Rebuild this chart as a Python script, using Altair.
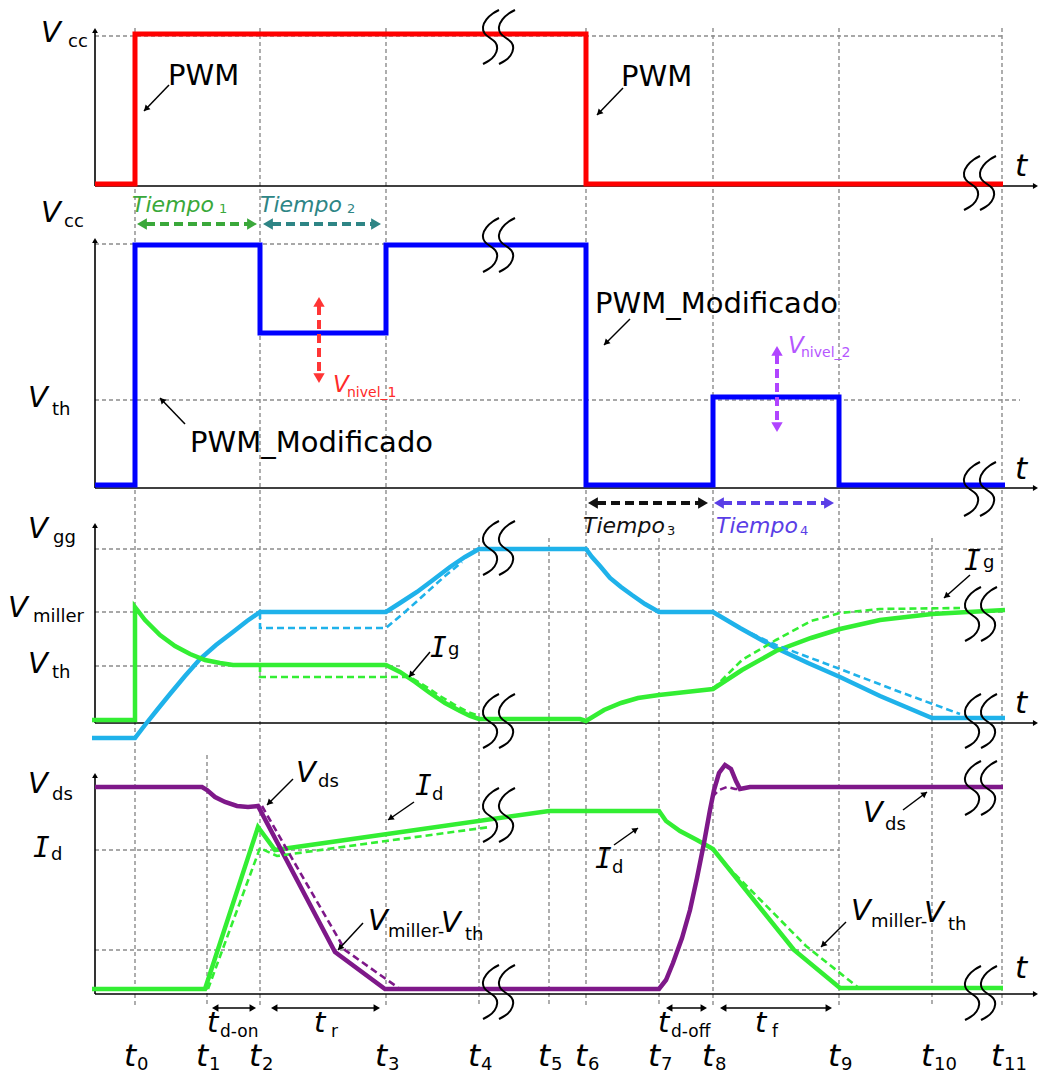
import math
import altair as alt
import pandas as pd

W, H = 1039, 1074
FONT = "DejaVu Sans"

# ---- time instants t0 .. t11 -------------------------------------------
T_LABELS = ["0", "1", "2", "3", "4", "5", "6", "7", "8", "9", "10", "11"]
T_AT = [135, 207, 260, 386, 479, 549, 586, 659, 713, 839, 932, 1002]

# ---- lanes: zero line of each trace, axis line and axis top -------------
LANE_BASE = {"pwm": 184, "mod": 485, "gate": 720, "drain": 989}
LANE_AXIS = {"pwm": 186, "mod": 488, "gate": 723, "drain": 994}
LANE_TOP = {"pwm": 28, "mod": 238, "gate": 523, "drain": 773}

# ---- waveforms: time, level above the lane's zero line -----------------
PWM_T = [95, 135, 135, 586, 586, 1003]
PWM_V = [0, 0, 150, 150, 0, 0]

MOD_T = [95, 135, 135, 260, 260, 386, 386, 586, 586, 713, 713, 839, 839, 1005]
MOD_V = [0, 0, 240, 240, 152, 152, 240, 240, 0, 0, 88, 88, 0, 0]

VGS_T = [92, 135, 145, 157, 170, 185, 200, 216, 233, 247, 260,
         386, 400, 417, 433, 450, 465, 479,
         586, 592, 600, 610, 621, 632, 645, 659,
         713, 740, 776, 808, 840, 880, 932, 1005]
VGS_V = [-18, -18, -5, 10, 26, 44, 61, 75, 88, 99, 108,
         108, 117, 128, 140, 153, 163, 171,
         171, 163, 154, 142, 133, 125, 116, 108,
         108, 92, 72, 57, 43, 24, 2, 2]
VGS_A_T = [260, 260, 386, 405, 425, 445, 462]
VGS_A_V = [108, 92, 92, 108, 126, 144, 158]
VGS_B_T = [713, 742, 776, 840, 900, 960]
VGS_B_V = [108, 91, 75, 51, 28, 6]

IG_T = [92, 135, 135, 145, 160, 175, 190, 205, 220, 233,
        386, 400, 415, 430, 445, 460, 470, 479,
        580, 586, 604, 621, 638, 659, 686, 713,
        742, 776, 811, 840, 880, 932, 1005]
IG_V = [0, 0, 113, 100, 85, 74, 66, 60, 57, 55,
        55, 48, 38, 27, 17, 9, 4, 1,
        1, -1, 10, 17, 22, 25, 28, 31,
        50, 69, 82, 91, 100, 106, 110]
IG_A_T = [260, 260, 410, 425, 440, 455, 468, 479]
IG_A_V = [55, 43, 43, 34, 24, 15, 8, 4]
IG_B_T = [713, 742, 776, 811, 840, 880, 960]
IG_B_V = [31, 60, 80, 99, 107, 111, 112]

VDS_T = [95, 202, 207, 215, 225, 237, 248, 258, 335, 385, 659,
         666, 673, 682, 690, 697, 704, 710, 714,
         719, 725, 731, 736, 740, 745, 750, 1003]
VDS_V = [202, 202, 199, 192, 187, 183, 182, 183, 37, 0, 0,
         9, 26, 51, 79, 111, 146, 179, 199,
         216, 224, 220, 208, 200, 201, 202, 202]
VDS_A_T = [262, 286, 345, 400]
VDS_A_V = [183, 141, 39, 0]
VDS_B_T = [712, 719, 727, 735, 742]
VDS_B_V = [192, 199, 202, 200, 200]

ID_T = [92, 205, 258, 275, 549, 659, 666, 680, 697, 713, 794, 840, 1003]
ID_V = [0, 0, 162, 139, 178, 178, 168, 158, 149, 140, 39, 1, 1]
ID_A_T = [208, 260, 277, 386, 490]
ID_A_V = [0, 141, 133, 148, 162]
ID_B_T = [713, 727, 806, 860]
ID_B_V = [140, 123, 43, 0]

# ---- reference levels (lane, level, from, to) --------------------------
REF_LEVELS = [("pwm", 148, 95, 1003),
              ("mod", 241, 95, 586), ("mod", 85, 95, 1020),
              ("gate", 171, 95, 1003), ("gate", 108, 95, 1003), ("gate", 54, 95, 400),
              ("drain", 139, 95, 839), ("drain", 39, 95, 839)]
# vertical guides: which instants, and from where they start
GUIDE_FULL = ["0", "2", "3", "6", "8", "9", "11"]
GUIDE_LOWER = ["4", "5", "7", "10"]
GUIDE_DRAIN = ["1"]

RED, BLUE, SKY, GREEN, PURPLE = "#ff0000", "#0000ff", "#1fb2ea", "#33ee33", "#7e1889"
GRAY = "#8c8c8c"

X = alt.X("x:Q", scale=alt.Scale(domain=[0, W], nice=False, zero=False), axis=None)
Y = alt.Y("y:Q", scale=alt.Scale(domain=[0, H], nice=False, zero=False, reverse=True), axis=None)


def lane_pts(lane, ts, vs):
    b = LANE_BASE[lane]
    return [(t, b - v) for t, v in zip(ts, vs)]


def lines(series, width, dash=None, interp="linear", join="miter"):
    rows = []
    for g, (pts, col) in enumerate(series):
        for i, (x, y) in enumerate(pts):
            rows.append({"x": x, "y": y, "g": g, "i": i, "c": col})
    kw = dict(strokeWidth=width, interpolate=interp, strokeJoin=join)
    if dash:
        kw["strokeDash"] = dash
    return alt.Chart(pd.DataFrame(rows)).mark_line(**kw).encode(
        x=X, y=Y, detail="g:N", order="i:Q", color=alt.Color("c:N", scale=None))


def heads(items):
    rows = []
    for (tx, ty), (fx, fy), sz, c in items:
        dx, dy = tx - fx, ty - fy
        L = math.hypot(dx, dy)
        ux, uy = dx / L, dy / L
        h = 0.433 * math.sqrt(sz)
        ang = math.degrees(math.atan2(dx, -dy)) % 360
        rows.append({"x": tx - ux * h, "y": ty - uy * h, "a": ang, "sz": sz, "c": c})
    return alt.Chart(pd.DataFrame(rows)).mark_point(
        shape="triangle-up", filled=True, opacity=1, strokeWidth=0).encode(
        x=X, y=Y, angle=alt.Angle("a:Q", scale=None),
        size=alt.Size("sz:Q", scale=None), color=alt.Color("c:N", scale=None))


def texts(items, italic=False, font=FONT, weight="normal"):
    df = pd.DataFrame(items, columns=["s", "x", "y", "fs", "c"])
    return alt.Chart(df).mark_text(
        align="left", baseline="alphabetic", font=font, fontWeight=weight,
        fontStyle="italic" if italic else "normal").encode(
        x=X, y=Y, text="s:N", size=alt.Size("fs:Q", scale=None),
        color=alt.Color("c:N", scale=None))


t_at = dict(zip(T_LABELS, T_AT))

# grid ------------------------------------------------------------------
grid = []
for lane, lev, x0, x1 in REF_LEVELS:
    y = LANE_BASE[lane] - lev
    grid.append(([(x0, y), (x1, y)], GRAY))
for k in GUIDE_FULL:
    grid.append(([(t_at[k], 28), (t_at[k], 1007)], GRAY))
for k in GUIDE_LOWER:
    grid.append(([(t_at[k], 538), (t_at[k], 1007)], GRAY))
for k in GUIDE_DRAIN:
    grid.append(([(t_at[k], 755), (t_at[k], 1007)], GRAY))

# axes ------------------------------------------------------------------
axes, axis_heads = [], []
for lane in LANE_BASE:
    ay, top = LANE_AXIS[lane], LANE_TOP[lane]
    axes.append(([(95, ay), (95, top + 3)], "black"))
    axes.append(([(95, ay), (1035, ay)], "black"))
    axis_heads.append(((95, top), (95, ay), 34, "black"))
    axis_heads.append(((1038, ay), (95, ay), 34, "black"))

# break marks (pairs of S strokes) --------------------------------------
S_SHAPE = [(9, -27), (3, -24), (-4, -18), (-8, -10), (-6, -3), (0, 1),
           (6, 5), (8, 11), (5, 19), (-1, 24), (-7, 27)]
BREAKS = [(498, 37), (979, 183), (498, 245), (979, 489),
          (498, 548), (498, 721), (980, 614), (980, 721),
          (498, 815), (498, 992), (980, 788), (980, 993)]
brk = []
for cx, cy in BREAKS:
    for off in (-8, 8):
        brk.append(([(cx + off + dx, cy + dy) for dx, dy in S_SHAPE], "black"))

# pointer arrows --------------------------------------------------------
POINTERS = [((169, 85), (144, 111)), ((623, 88), (597, 115)),
            ((185, 424), (160, 398)), ((630, 319), (604, 345)),
            ((430, 652), (409, 677)), ((970, 575), (944, 598)),
            ((293, 779), (267, 805)), ((414, 802), (388, 820)),
            ((363, 923), (338, 950)), ((614, 845), (638, 828)),
            ((903, 810), (927, 792)), ((846, 922), (821, 947))]
SPANS = [(212, 256), (271, 380), (666, 707), (720, 832)]
SPAN_Y = 1008
DASH_ARROWS = [((137, 224), (257, 224), "#3aa83a"), ((263, 224), (381, 224), "#2e8585"),
               ((319, 297), (319, 383), "#ff3535"), ((588, 503), (708, 503), "#111111"),
               ((714, 503), (834, 503), "#5a3ee6"), ((777, 346), (777, 432), "#b044ff")]

ptr_lines, ptr_heads = [], []
for a, b in POINTERS:
    ptr_lines.append(([a, b], "black"))
    ptr_heads.append((b, a, 45, "black"))
for x0, x1 in SPANS:
    ptr_lines.append(([(x0 + 3, SPAN_Y), (x1 - 3, SPAN_Y)], "black"))
    ptr_heads.append(((x0, SPAN_Y), (x1, SPAN_Y), 55, "black"))
    ptr_heads.append(((x1, SPAN_Y), (x0, SPAN_Y), 55, "black"))

dash_lines, dash_heads = [], []
for a, b, c in DASH_ARROWS:
    dx, dy = b[0] - a[0], b[1] - a[1]
    L = math.hypot(dx, dy)
    ux, uy = dx / L, dy / L
    dash_lines.append(([(a[0] + ux * 9, a[1] + uy * 9), (b[0] - ux * 9, b[1] - uy * 9)], c))
    dash_heads.append((a, b, 130, c))
    dash_heads.append((b, a, 130, c))

# text ------------------------------------------------------------------
K = "black"
ITALIC_BIG = [
    ("V", 41, 42, 29, K), ("V", 41, 222, 29, K), ("V", 28, 407, 29, K),
    ("V", 28, 538, 29, K), ("V", 8, 617, 29, K), ("V", 28, 673, 29, K),
    ("V", 28, 793, 29, K), ("V", 296, 782, 29, K),
    ("V", 368, 930, 29, K), ("V", 441, 932, 29, K),
    ("V", 863, 822, 29, K), ("V", 851, 920, 29, K), ("V", 924, 922, 29, K),
    ("t", 207, 1032, 29, K), ("t", 314, 1032, 29, K),
    ("t", 658, 1032, 29, K), ("t", 755, 1032, 29, K),
    ("t", 1015, 176, 31, K), ("t", 1015, 479, 31, K),
    ("t", 1015, 713, 31, K), ("t", 1015, 978, 31, K),
] + [("t", x - 11, 1066, 31, K) for x in T_AT]
ITALIC_I = [("I", 430, 657, 28, K), ("I", 964, 570, 28, K), ("I", 33, 857, 28, K),
            ("I", 415, 795, 28, K), ("I", 595, 868, 28, K)]
SUBS = [
    ("cc", 68, 47, 18, K), ("cc", 64, 227, 18, K), ("th", 52, 415, 18, K),
    ("gg", 53, 543, 18, K), ("miller", 33, 622, 18, K), ("th", 52, 678, 18, K),
    ("ds", 52, 800, 18, K), ("d", 51, 860, 18, K),
    ("g", 448, 655, 18, K), ("g", 983, 568, 18, K),
    ("ds", 318, 787, 18, K), ("d", 432, 800, 18, K),
    ("miller-", 388, 937, 18, K), ("th", 465, 940, 18, K),
    ("d", 612, 873, 18, K), ("ds", 885, 830, 18, K),
    ("miller-", 871, 927, 18, K), ("th", 948, 930, 18, K),
    ("d-on", 220, 1037, 17, K), ("r", 331, 1037, 17, K),
    ("d-off", 671, 1037, 17, K), ("f", 772, 1037, 17, K),
] + [(lbl, x + 2, 1070, 18, K) for lbl, x in zip(T_LABELS, T_AT)]
BIG = [("PWM", 168, 85, 29, K), ("PWM", 621, 86, 29, K),
       ("PWM_Modificado", 190, 452, 29, K), ("PWM_Modificado", 595, 313, 29, K)]
TIEMPO = [("Tiempo", 132, 212, 22, "#3aa83a"), ("Tiempo", 260, 212, 22, "#2e8585"),
          ("Tiempo", 583, 533, 22, "#111111"), ("Tiempo", 716, 533, 22, "#5a3ee6"),
          ("V", 333, 392, 23, "#ff2a2a"), ("V", 788, 353, 23, "#b556ff")]
TIEMPO_SUB = [("1", 219, 213, 13, "#3aa83a"), ("2", 347, 213, 13, "#2e8585"),
              ("3", 667, 535, 13, "#111111"), ("4", 800, 535, 13, "#5a3ee6"),
              ("nivel_1", 347, 397, 14, "#ff2a2a"), ("nivel_2", 801, 357, 14, "#b556ff")]

layers = [
    lines(grid, 1.4, dash=[4, 3]),
    lines(axes, 1.6),
    lines([(lane_pts("pwm", PWM_T, PWM_V), RED)], 5),
    lines([(lane_pts("mod", MOD_T, MOD_V), BLUE)], 5),
    lines([(lane_pts("gate", VGS_T, VGS_V), SKY)], 4.5),
    lines([(lane_pts("gate", IG_T, IG_V), GREEN)], 4.5),
    lines([(lane_pts("gate", VGS_A_T, VGS_A_V), SKY), (lane_pts("gate", VGS_B_T, VGS_B_V), SKY),
           (lane_pts("gate", IG_A_T, IG_A_V), GREEN), (lane_pts("gate", IG_B_T, IG_B_V), GREEN)],
          2.6, dash=[7, 4]),
    lines([(lane_pts("drain", ID_T, ID_V), GREEN)], 4.5),
    lines([(lane_pts("drain", VDS_T, VDS_V), PURPLE)], 4.5),
    lines([(lane_pts("drain", ID_A_T, ID_A_V), GREEN), (lane_pts("drain", ID_B_T, ID_B_V), GREEN),
           (lane_pts("drain", VDS_A_T, VDS_A_V), PURPLE), (lane_pts("drain", VDS_B_T, VDS_B_V), PURPLE)],
          2.6, dash=[7, 4]),
    lines(brk, 2.0, interp="basis", join="round"),
    lines(ptr_lines, 1.5),
    lines(dash_lines, 4, dash=[9, 5]),
    heads(axis_heads + ptr_heads + dash_heads),
    texts(ITALIC_BIG, italic=True),
    texts(ITALIC_I, italic=True, font="DejaVu Sans Mono"),
    texts(SUBS),
    texts(BIG),
    texts(TIEMPO, italic=True),
    texts(TIEMPO_SUB),
]

chart = alt.layer(*layers).properties(
    width=W, height=H, padding=0, autosize="none", background="white"
).configure_view(strokeWidth=0)

chart.save("out.html", embed_options={"renderer": "svg", "actions": False})
